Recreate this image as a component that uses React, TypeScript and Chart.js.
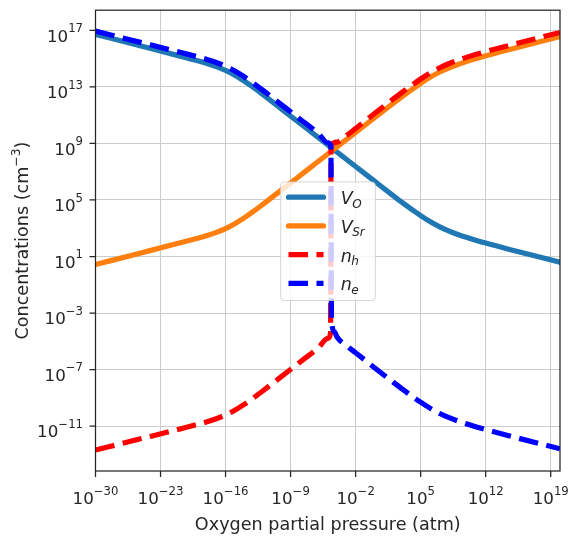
import React, { useEffect, useRef } from 'react';
import { Chart, registerables } from 'chart.js';

Chart.register(...registerables);

// ---- axis ranges and ticks (values are powers of ten) ----
const X_MIN = 1e-30;
const X_MAX = 1e20;
const Y_MIN = 6.6e-15;
const Y_MAX = 2.7e18;
const xTickExps = [-30, -23, -16, -9, -2, 5, 12, 19];
const yTickExps = [17, 13, 9, 5, 1, -3, -7, -11];

// ---- data: log10(pO2 / atm) and log10(concentration / cm^-3) ----
const defectLogPO2 = [-30, -25, -21, -19, -18, -17, -16, -15, -14, -13, -12, -10, -8, -6, -4.65, -2, 0, 2, 3, 4, 5, 6, 7, 8, 9, 10, 11, 12, 15, 20];
const vOLog = [16.72, 15.88, 15.2, 14.85, 14.66, 14.44, 14.17, 13.83, 13.42, 12.96, 12.47, 11.45, 10.43, 9.41, 8.72, 7.37, 6.35, 5.33, 4.83, 4.35, 3.89, 3.47, 3.11, 2.81, 2.56, 2.34, 2.14, 1.95, 1.43, 0.59];
const vSrLog = [0.43, 1.27, 1.95, 2.3, 2.49, 2.71, 2.98, 3.32, 3.73, 4.19, 4.68, 5.7, 6.72, 7.74, 8.43, 9.78, 10.8, 11.82, 12.32, 12.8, 13.26, 13.68, 14.04, 14.34, 14.59, 14.81, 15.01, 15.2, 15.72, 16.56];

const holeLogPO2 = [-30, -25, -21, -19, -18, -17, -16, -15, -14, -13, -12, -10, -8, -6, -5, -4.7, -4.64, -4, -3, -2, 0, 2, 3, 4, 5, 6, 7, 8, 9, 10, 11, 12, 15, 20];
const nHLog = [-12.7, -11.88, -11.22, -10.88, -10.7, -10.48, -10.21, -9.88, -9.47, -9.01, -8.52, -7.5, -6.48, -5.45, -4.8, -4.45, 8.85, 9.1, 9.55, 10.06, 11.1, 12.12, 12.62, 13.1, 13.56, 13.98, 14.34, 14.64, 14.89, 15.11, 15.31, 15.5, 16.02, 16.86];

const elecLogPO2 = [-30, -25, -21, -19, -18, -17, -16, -15, -14, -13, -12, -10, -8, -6, -5, -4.66, -4.6, -4.3, -4, -3, -2, 0, 2, 3, 4, 5, 6, 7, 8, 9, 10, 11, 12, 15, 20];
const nELog = [16.95, 16.13, 15.47, 15.13, 14.95, 14.73, 14.46, 14.13, 13.72, 13.26, 12.77, 11.75, 10.73, 9.7, 9.05, 8.82, -3.4, -4.3, -4.7, -5.3, -5.81, -6.85, -7.87, -8.37, -8.85, -9.31, -9.73, -10.09, -10.39, -10.64, -10.86, -11.06, -11.25, -11.77, -12.61];

const seriesColors = ['#1f77b4', '#ff7f0e', '#ff0000', '#0000ff'];
const legendMain = ['V', 'V', 'n', 'n'];
const legendSub = ['O', 'Sr', 'h', 'e'];
const xLabel = 'Oxygen partial pressure (atm)';
const yLabelPre = 'Concentrations (cm';
const yLabelSup = '\u22123';
const yLabelPost = ')';

const FONT = '"DejaVu Sans", sans-serif';
const TEXT = '#262626';
const LW = 5.2;
const DASH = [19.5, 8.5];

const toPoints = (xs: number[], ys: number[]) => xs.map((e, i) => ({ x: Math.pow(10, e), y: Math.pow(10, ys[i]) }));

const expText = (e: number) => (e < 0 ? '\u2212' + String(-e) : String(e));

function drawPow(ctx: CanvasRenderingContext2D, cx: number, baseY: number, e: number, align: 'center' | 'right') {
  const base = '10';
  const sup = expText(e);
  ctx.font = `16.7px ${FONT}`;
  const wb = ctx.measureText(base).width;
  ctx.font = `11.7px ${FONT}`;
  const ws = ctx.measureText(sup).width;
  const total = wb + ws;
  const x0 = align === 'center' ? cx - total / 2 : cx - total;
  ctx.textAlign = 'left';
  ctx.textBaseline = 'alphabetic';
  ctx.font = `16.7px ${FONT}`;
  ctx.fillText(base, x0, baseY);
  ctx.font = `11.7px ${FONT}`;
  ctx.fillText(sup, x0 + wb, baseY - 9.5);
}

const decorPlugin = {
  id: 'decor',
  afterDraw(chart: any) {
    const { ctx, chartArea: ca, scales } = chart;
    const xs = scales.x;
    const ys = scales.y;
    ctx.save();
    // frame
    ctx.strokeStyle = TEXT;
    ctx.lineWidth = 1.25;
    ctx.setLineDash([]);
    ctx.strokeRect(ca.left, ca.top, ca.right - ca.left, ca.bottom - ca.top);
    // tick marks
    ctx.beginPath();
    xTickExps.forEach((e) => {
      const px = xs.getPixelForValue(Math.pow(10, e));
      ctx.moveTo(px, ca.bottom);
      ctx.lineTo(px, ca.bottom + 6);
    });
    yTickExps.forEach((e) => {
      const py = ys.getPixelForValue(Math.pow(10, e));
      ctx.moveTo(ca.left, py);
      ctx.lineTo(ca.left - 6, py);
    });
    ctx.stroke();
    // tick labels
    ctx.fillStyle = TEXT;
    xTickExps.forEach((e) => {
      const px = xs.getPixelForValue(Math.pow(10, e));
      drawPow(ctx, px, ca.bottom + 33, e, 'center');
    });
    yTickExps.forEach((e) => {
      const py = ys.getPixelForValue(Math.pow(10, e));
      drawPow(ctx, ca.left - 12.5, py + 11.4, e, 'right');
    });
    // x axis label
    ctx.font = `17.6px ${FONT}`;
    ctx.textAlign = 'center';
    ctx.textBaseline = 'alphabetic';
    ctx.fillText(xLabel, (ca.left + ca.right) / 2, ca.bottom + 59);
    // y axis label
    ctx.save();
    ctx.translate(28, (ca.top + ca.bottom) / 2);
    ctx.rotate(-Math.PI / 2);
    ctx.textAlign = 'left';
    ctx.font = `17.6px ${FONT}`;
    const w1 = ctx.measureText(yLabelPre).width;
    const w3 = ctx.measureText(yLabelPost).width;
    ctx.font = `12.3px ${FONT}`;
    const w2 = ctx.measureText(yLabelSup).width;
    const x0 = -(w1 + w2 + w3) / 2;
    ctx.font = `17.6px ${FONT}`;
    ctx.fillText(yLabelPre, x0, 0);
    ctx.font = `12.3px ${FONT}`;
    ctx.fillText(yLabelSup, x0 + w1, -8);
    ctx.font = `17.6px ${FONT}`;
    ctx.fillText(yLabelPost, x0 + w1 + w2, 0);
    ctx.restore();
    // legend
    const lx = ca.left + 185.2;
    const ly = ca.top + 171.7;
    const lw = 94.6;
    const lh = 118.6;
    const r = 3.5;
    ctx.beginPath();
    ctx.moveTo(lx + r, ly);
    ctx.lineTo(lx + lw - r, ly);
    ctx.arcTo(lx + lw, ly, lx + lw, ly + r, r);
    ctx.lineTo(lx + lw, ly + lh - r);
    ctx.arcTo(lx + lw, ly + lh, lx + lw - r, ly + lh, r);
    ctx.lineTo(lx + r, ly + lh);
    ctx.arcTo(lx, ly + lh, lx, ly + lh - r, r);
    ctx.lineTo(lx, ly + r);
    ctx.arcTo(lx, ly, lx + r, ly, r);
    ctx.closePath();
    ctx.fillStyle = 'rgba(255,255,255,0.8)';
    ctx.fill();
    ctx.strokeStyle = 'rgba(204,204,204,0.8)';
    ctx.lineWidth = 1;
    ctx.stroke();
    for (let i = 0; i < 4; i++) {
      const yy = ly + 15.3 + i * 28.75;
      ctx.beginPath();
      ctx.strokeStyle = seriesColors[i];
      ctx.lineWidth = LW;
      if (i >= 2) {
        ctx.setLineDash(DASH);
        ctx.lineCap = 'butt';
      } else {
        ctx.setLineDash([]);
        ctx.lineCap = 'round';
      }
      ctx.moveTo(lx + 7.8, yy);
      ctx.lineTo(lx + 42.8, yy);
      ctx.stroke();
      ctx.setLineDash([]);
      ctx.fillStyle = TEXT;
      ctx.textAlign = 'left';
      ctx.font = `italic 17.5px ${FONT}`;
      const tx = lx + 60;
      const by = yy + 7;
      ctx.fillText(legendMain[i], tx, by);
      const wm = ctx.measureText(legendMain[i]).width;
      ctx.font = `italic 12px ${FONT}`;
      ctx.fillText(legendSub[i], tx + wm - 0.5, by + 3.5);
    }
    ctx.restore();
  },
};

export default function App() {
  const ref = useRef<HTMLCanvasElement | null>(null);
  useEffect(() => {
    if (!ref.current) return;
    const common = {
      pointRadius: 0,
      fill: false,
      cubicInterpolationMode: 'monotone',
      clip: 0,
      borderWidth: LW,
      borderJoinStyle: 'round',
    };
    const chart = new Chart(ref.current, {
      type: 'line',
      data: {
        datasets: [
          { ...common, label: 'V_O', data: toPoints(defectLogPO2, vOLog), borderColor: seriesColors[0], borderCapStyle: 'round', order: 4 },
          { ...common, label: 'V_Sr', data: toPoints(defectLogPO2, vSrLog), borderColor: seriesColors[1], borderCapStyle: 'round', order: 3 },
          { ...common, label: 'n_h', data: toPoints(holeLogPO2, nHLog), borderColor: seriesColors[2], borderDash: DASH, borderCapStyle: 'butt', order: 2 },
          { ...common, label: 'n_e', data: toPoints(elecLogPO2, nELog), borderColor: seriesColors[3], borderDash: DASH, borderCapStyle: 'butt', order: 1 },
        ] as any,
      },
      options: {
        animation: false,
        responsive: false,
        devicePixelRatio: 1,
        events: [],
        layout: { padding: { top: 9, right: 19, left: 0, bottom: 0 } },
        plugins: { legend: { display: false }, tooltip: { enabled: false } },
        scales: {
          x: {
            type: 'logarithmic',
            min: X_MIN,
            max: X_MAX,
            afterBuildTicks: (s: any) => {
              s.ticks = xTickExps.map((e) => ({ value: Math.pow(10, e) }));
            },
            afterFit: (s: any) => {
              s.height = 73;
            },
            ticks: { autoSkip: false, callback: () => '' },
            grid: { color: '#cccccc', lineWidth: 1, drawTicks: false },
            border: { display: false },
          },
          y: {
            type: 'logarithmic',
            min: Y_MIN,
            max: Y_MAX,
            afterBuildTicks: (s: any) => {
              s.ticks = yTickExps.map((e) => ({ value: Math.pow(10, e) }));
            },
            afterFit: (s: any) => {
              s.width = 95.5;
            },
            ticks: { autoSkip: false, callback: () => '' },
            grid: { color: '#cccccc', lineWidth: 1, drawTicks: false },
            border: { display: false },
          },
        },
      } as any,
      plugins: [decorPlugin],
    });
    return () => chart.destroy();
  }, []);
  return (
    <canvas
      ref={ref}
      width={579}
      height={544}
      style={{ position: 'fixed', left: 0, top: 0, display: 'block', background: '#ffffff' }}
    />
  );
}
